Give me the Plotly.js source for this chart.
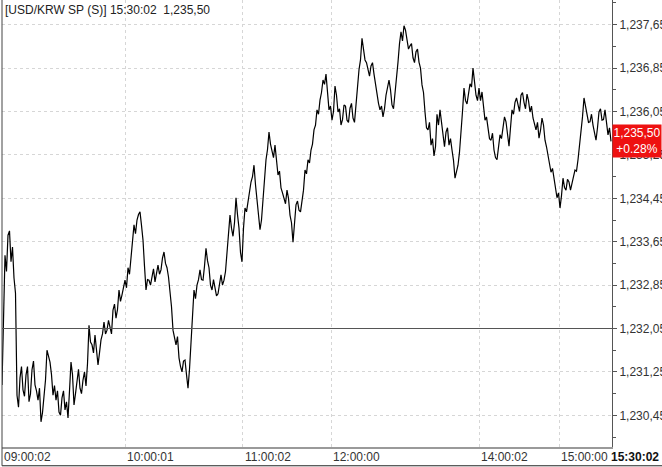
<!DOCTYPE html>
<html>
<head>
<meta charset="utf-8">
<script src="https://cdn.plot.ly/plotly-3.0.1.min.js"></script>
<style>
html,body{margin:0;padding:0;background:#fff;}
#chart{width:662px;height:467px;}
</style>
</head>
<body>
<div id="chart"></div>
<script>
// Tick-index based intraday series (USD/KRW spot)
var prices = [
1231.01,1232.30,1233.40,1233.10,1233.77,1233.85,1233.28,1233.55,1232.98,1232.70,
1230.82,1230.60,1231.14,1231.35,1230.92,1230.80,1231.19,1231.35,1230.70,1230.85,
1231.29,1231.45,1231.01,1230.90,1230.73,1230.95,1230.33,1230.50,1230.82,1231.10,
1231.65,1231.55,1231.43,1231.20,1230.82,1231.00,1230.73,1230.90,1230.51,1230.45,
1230.77,1230.90,1230.55,1230.70,1230.40,1230.90,1231.43,1231.20,1230.64,1230.85,
1231.14,1231.30,1230.95,1230.85,1231.10,1231.25,1230.99,1231.40,1232.11,1231.80,
1231.75,1231.60,1231.93,1231.70,1231.38,1231.60,1231.84,1231.95,1232.17,1231.95,
1232.02,1232.20,1232.10,1231.95,1232.39,1232.50,1232.24,1232.40,1232.76,1232.55,
1232.67,1232.85,1232.94,1232.80,1233.17,1233.05,1233.35,1233.60,1233.96,1233.80,
1234.05,1234.15,1234.20,1233.95,1233.68,1233.20,1232.76,1232.95,1232.94,1232.85,
1233.04,1233.15,1232.91,1233.05,1233.22,1233.05,1233.13,1233.35,1233.46,1233.25,
1233.17,1233.00,1232.72,1232.45,1232.02,1231.85,1231.75,1231.90,1231.51,1231.35,
1231.25,1231.45,1231.47,1231.20,1230.95,1231.30,1231.84,1232.40,1232.76,1232.60,
1232.85,1232.95,1233.13,1232.95,1232.94,1233.20,1233.53,1233.30,1233.17,1232.85,
1232.76,1232.95,1232.80,1232.65,1232.69,1232.90,1233.04,1232.85,1232.94,1233.10,
1233.46,1233.75,1234.14,1233.90,1233.75,1234.00,1234.46,1234.15,1233.90,1233.45,
1233.28,1233.90,1234.27,1234.20,1234.42,1234.55,1234.75,1234.85,1235.06,1234.70,
1234.42,1234.25,1233.87,1234.05,1234.46,1234.80,1235.16,1235.35,1235.67,1235.45,
1235.34,1235.20,1235.43,1235.15,1234.88,1234.95,1234.64,1234.55,1234.46,1234.35,
1234.60,1234.45,1234.14,1234.00,1233.64,1233.95,1234.33,1234.40,1234.23,1234.20,
1234.42,1234.60,1234.97,1234.90,1235.16,1235.10,1235.34,1235.45,1235.71,1235.80,
1236.08,1236.00,1236.26,1236.40,1236.63,1236.55,1236.74,1236.45,1236.08,1236.15,
1235.89,1236.05,1236.52,1236.35,1236.04,1236.10,1235.80,1235.90,1236.17,1236.15,
1235.89,1235.85,1236.11,1236.20,1235.93,1235.85,1236.22,1236.45,1236.82,1237.00,
1237.40,1237.20,1237.00,1236.95,1236.82,1236.70,1236.89,1236.95,1236.74,1236.55,
1236.30,1236.20,1236.08,1236.15,1235.95,1236.10,1236.35,1236.50,1236.63,1236.45,
1236.17,1236.10,1236.35,1236.60,1236.96,1237.30,1237.52,1237.35,1237.63,1237.55,
1237.40,1237.20,1237.26,1237.30,1237.04,1236.95,1237.15,1237.20,1236.96,1236.85,
1236.54,1236.40,1236.04,1235.75,1235.71,1235.85,1235.43,1235.55,1235.23,1235.40,
1236.00,1235.80,1236.08,1235.85,1235.52,1235.40,1235.67,1235.75,1235.43,1235.55,
1235.34,1235.15,1234.82,1234.95,1235.06,1235.30,1235.62,1236.05,1236.48,1236.25,
1236.19,1236.40,1236.56,1236.50,1236.85,1236.60,1236.35,1236.25,1236.48,1236.25,
1236.41,1236.15,1235.89,1235.95,1235.71,1235.55,1235.52,1235.65,1235.34,1235.20,
1235.16,1235.35,1235.62,1235.55,1235.80,1235.95,1235.86,1235.60,1235.41,1235.75,
1236.08,1236.00,1236.22,1236.30,1236.17,1236.05,1236.35,1236.40,1236.22,1236.10,
1236.37,1236.25,1236.04,1236.15,1235.93,1235.80,1235.71,1235.85,1235.56,1235.70,
1235.93,1235.80,1235.52,1235.40,1235.25,1235.10,1234.93,1235.00,1234.79,1234.60,
1234.46,1234.55,1234.27,1234.50,1234.82,1234.65,1234.60,1234.80,1234.75,1234.60,
1234.70,1234.85,1234.97,1234.95,1235.16,1235.40,1235.71,1235.95,1236.30,1236.15,
1236.04,1235.85,1235.86,1236.00,1235.80,1235.65,1235.52,1235.75,1236.04,1236.10,
1235.89,1235.90,1236.08,1235.85,1235.62,1235.75,1235.50
];
var timeTickIndex = [0, 82, 160.6, 219.4, 318, 371.4];
var timeTickLabels = ["09:00:02","10:00:01","11:00:02","12:00:00","14:00:02","15:00:00"];
var lastTime = "15:30:02";
var lastPriceLabel = "1,235,50";
var changeLabel = "+0.28%";
var lastPrice = 1235.50;
var prevClose = 1232.05;
var priceTicks = [1230.45,1231.25,1232.05,1232.85,1233.65,1234.45,1235.25,1236.05,1236.85,1237.65];
var priceTickLabels = ["1,230,45","1,231,25","1,232,05","1,232,85","1,233,65","1,234,45","1,235,25","1,236,05","1,236,85","1,237,65"];
var titleText = "[USD/KRW SP (S)] " + lastTime + "  " + lastPriceLabel;

var xs = prices.map(function(_, i){ return i; });
var FONT = "Liberation Sans, Arial, sans-serif";

var trace = {
  x: xs, y: prices, type: "scatter", mode: "lines",
  line: {color: "#000", width: 1.2},
  hoverinfo: "skip", showlegend: false
};

var annotations = [{
  text: titleText, xref: "paper", yref: "paper", x: 0, y: 1, xanchor: "left", yanchor: "top",
  xshift: 1, yshift: -1, showarrow: false, font: {family: FONT, size: 12, color: "#222"}
}];
timeTickIndex.forEach(function(v, i){
  annotations.push({
    text: timeTickLabels[i], xref: "x", yref: "paper", x: v, y: 0, xanchor: "left", yanchor: "top",
    yshift: -1, xshift: 0, showarrow: false, font: {family: FONT, size: 12, color: "#333"}
  });
});
annotations.push({
  text: "<b>" + lastTime + "</b>", xref: "paper", yref: "paper", x: 1, y: 0, xanchor: "left", yanchor: "top",
  yshift: -1, xshift: -3, showarrow: false, font: {family: FONT, size: 12, color: "#111"}
});
annotations.push({
  text: lastPriceLabel + "<br>" + changeLabel, xref: "paper", yref: "y", x: 1, y: lastPrice,
  xanchor: "left", yanchor: "middle", showarrow: false, bgcolor: "#ee1111",
  borderpad: 1, width: 46, align: "center",
  font: {family: FONT, size: 12, color: "#fff"}
});

var shapes = [
  {type: "line", xref: "paper", yref: "y", x0: 0, x1: 1, y0: prevClose, y1: prevClose,
   line: {color: "#555", width: 1}},
  {type: "line", xref: "paper", yref: "paper", x0: 0, x1: 0, y0: 0, y1: 1, line: {color: "#444", width: 1}},
  {type: "line", xref: "paper", yref: "paper", x0: 0, x1: 1.082, y0: -0.042, y1: -0.042, line: {color: "#222", width: 1}},
  {type: "line", xref: "paper", yref: "paper", x0: 0, x1: 0, y0: 0, y1: -0.042, line: {color: "#444", width: 1}}
];

var layout = {
  width: 662, height: 467,
  margin: {l: 2, r: 50, t: 0, b: 20},
  paper_bgcolor: "#fff", plot_bgcolor: "#fff",
  showlegend: false,
  xaxis: {
    range: [0, 406.67], tickmode: "array", tickvals: timeTickIndex, showticklabels: false,
    ticks: "", showgrid: true, gridcolor: "#d6d6d6", griddash: "3px,3px", gridwidth: 1,
    showline: true, linecolor: "#9a9a9a", linewidth: 2, zeroline: false, fixedrange: true
  },
  yaxis: {
    side: "right", range: [1229.866, 1238.105], tickmode: "array",
    tickvals: priceTicks, ticktext: priceTickLabels,
    ticks: "outside", ticklen: 4, tickcolor: "#555",
    minor: {tickmode: "linear", tick0: 1230.85, dtick: 0.8, ticks: "outside", ticklen: 3, tickcolor: "#555", showgrid: false},
    showgrid: true, gridcolor: "#d6d6d6", griddash: "3px,3px", gridwidth: 1,
    showline: true, linecolor: "#555", linewidth: 1, zeroline: false,
    tickfont: {family: FONT, size: 12, color: "#333"}, fixedrange: true
  },
  annotations: annotations,
  shapes: shapes
};

Plotly.newPlot("chart", [trace], layout, {displayModeBar: false, staticPlot: true});
</script>
</body>
</html>
